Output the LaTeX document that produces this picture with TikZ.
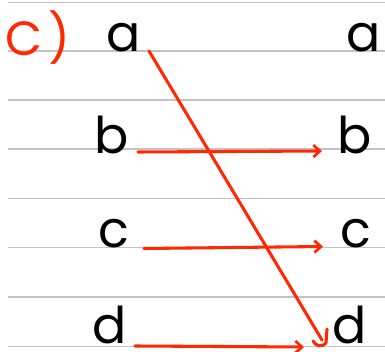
\documentclass[tikz,border=0pt]{standalone}
\usepackage{fontspec}
\setmainfont{Poppins}
\usetikzlibrary{arrows.meta}
\definecolor{rule}{RGB}{195,195,195}
\definecolor{pen}{RGB}{255,40,0}
\begin{document}
\begin{tikzpicture}[x=0.75pt,y=-0.75pt,
  ruleline/.style={draw=rule,line width=1.1pt},
  letter/.style={anchor=base,inner sep=0pt,font=\fontsize{38}{38}\selectfont},
  conn/.style={draw=pen,line width=2.3pt,line cap=round,-{Straight Barb[length=5pt,width=9pt,line width=2pt]}},
  hook/.style={draw=pen,line width=2.3pt,line cap=round,line join=round}]
\useasboundingbox (0,0) rectangle (385,352);
\foreach \yy in {2.5,51,100,149,198.5,247.5,297,346.5}{
  \draw[ruleline] (8,\yy) -- (385,\yy);
}
\node[letter,text=pen,font=\fontsize{36}{36}\selectfont] (lbl) at (38,56) {C\hspace{4pt})};
\node[letter] (a1) at (124,52) {a};
\node[letter] (a2) at (364,52) {a};
\node[letter] (b1) at (112,154) {b};
\node[letter] (b2) at (355,154) {b};
\node[letter] (c1) at (114,248) {c};
\node[letter] (c2) at (356,248) {c};
\node[letter] (d1) at (110,343) {d};
\node[letter] (d2) at (350,343) {d};
\coordinate (as) at (149,51);
\coordinate (ae) at (322,340);
\coordinate (bs) at (138,152);
\coordinate (be) at (322,151);
\coordinate (cs) at (144,248.5);
\coordinate (ce) at (323,246.5);
\coordinate (ds) at (135,346);
\coordinate (de) at (304,347);
\draw[hook] (as) -- (ae);
\draw[hook] (313,341) .. controls (316,347) and (323,347) .. (326,343) -- (327,329);
\draw[conn] (bs) -- (be);
\draw[conn] (cs) -- (ce);
\draw[conn] (ds) -- (de);
\end{tikzpicture}
\end{document}
